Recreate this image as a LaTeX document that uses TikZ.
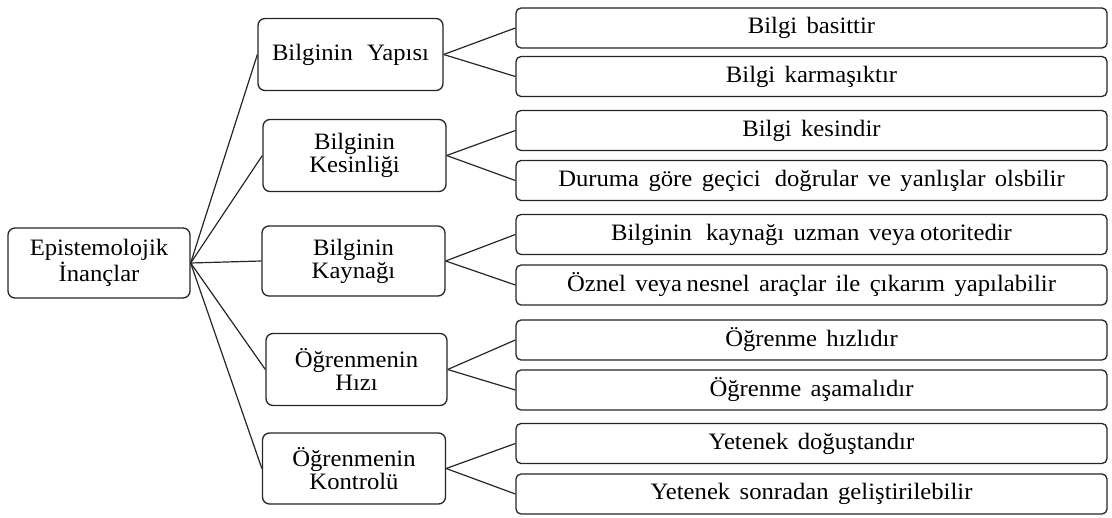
\documentclass[tikz,border=0pt]{standalone}
\usepackage{fontspec}
\setmainfont{Liberation Serif}[FakeStretch=1.05]
% wide gap (double space) and narrow gap between words
\newcommand{\gap}{\hspace{0.6em}}
\newcommand{\tight}{\hspace{0.2em}}
\newcommand{\widewords}{\spaceskip=0.4em plus 0.1em\relax}
\begin{document}
\begin{tikzpicture}[x=1pt,y=-1pt,
  every node/.style={font=\fontsize{23.5}{23}\selectfont, text=black,
    execute at begin node=\widewords},
  basebox/.style={draw=black!85, line width=1.3pt, rounded corners=7pt, fill=white,
    align=center, inner sep=0pt},
  rootbox/.style={basebox, minimum width=182pt, minimum height=70pt},
  midbox/.style={basebox, minimum width=183pt, minimum height=72pt},
  leafbox/.style={basebox, rounded corners=5pt, minimum width=591pt, minimum height=40pt},
  link/.style={draw=black!85, line width=1.2pt}]
\useasboundingbox (0,0) rectangle (1112,518);

% root
\node[rootbox] (root) at (99,263) {Epistemolojik\\İnançlar};

% second level
\node[midbox, minimum width=185pt] (m1) at (350.5,54.5) {Bilginin\gap Yapısı};
\node[midbox] (m2) at (354.5,155.5) {Bilginin\\Kesinliği};
\node[midbox, minimum height=70pt] (m3) at (353.5,261) {Bilginin\\Kaynağı};
\node[midbox, minimum width=181pt] (m4) at (356.5,369.5) {Öğrenmenin\\Hızı};
\node[midbox, minimum height=71pt] (m5) at (354,468.5) {Öğrenmenin\\Kontrolü};

% third level
\node[leafbox] (r1)  at (811.5,28)    {Bilgi basittir};
\node[leafbox] (r2)  at (811.5,76.5)  {Bilgi karmaşıktır};
\node[leafbox] (r3)  at (811.5,130.5) {Bilgi kesindir};
\node[leafbox] (r4)  at (811.5,180.5) {Duruma göre geçici\gap doğrular ve yanlışlar olsbilir};
\node[leafbox] (r5)  at (811.5,234.5) {Bilginin\gap kaynağı uzman veya\tight otoritedir};
\node[leafbox] (r6)  at (811.5,285)   {Öznel veya\tight nesnel araçlar ile çıkarım yapılabilir};
\node[leafbox] (r7)  at (811.5,340)   {Öğrenme hızlıdır};
\node[leafbox] (r8)  at (811.5,390)   {Öğrenme aşamalıdır};
\node[leafbox] (r9)  at (811.5,443.5) {Yetenek doğuştandır};
\node[leafbox] (r10) at (811.5,494)   {Yetenek sonradan geliştirilebilir};

% connectors
\foreach \m in {m1,m2,m3,m4,m5}
  \draw[link] (root.east) -- (\m.west);
\foreach \m/\a/\b in {m1/r1/r2, m2/r3/r4, m3/r5/r6, m4/r7/r8, m5/r9/r10} {
  \draw[link] (\m.east) -- (\a.west);
  \draw[link] (\m.east) -- (\b.west);
}
\end{tikzpicture}
\end{document}
